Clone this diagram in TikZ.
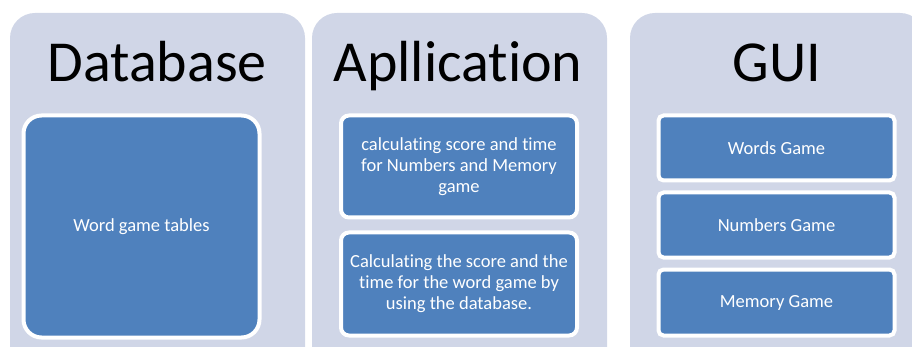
\documentclass[tikz,border=0pt]{standalone}
\usepackage{fontspec}
\setmainfont[Ligatures={NoCommon}]{Carlito}
\usetikzlibrary{positioning}
\definecolor{panelgray}{HTML}{D0D6E7}
\definecolor{boxblue}{HTML}{4F81BD}

\begin{document}
\begin{tikzpicture}
				[x=1pt, y=-1pt,
					panel/.style={rectangle, rounded corners=25pt, fill=panelgray, minimum width=295pt, minimum height=360pt, inner sep=0pt},
					paneltitle/.style={anchor=base, font=\fontsize{58}{60}\selectfont},
					bluebox/.style={rectangle, draw=white, line width=4pt, fill=boxblue, text=white, minimum width=236pt, align=center, font=\fontsize{18.5}{21}\selectfont, outer sep=0pt, inner sep=2pt},
				]
				\useasboundingbox (0,0) rectangle (912,347);
				\clip (0,0) rectangle (912,347);

				\node [panel] (dbpanel) at (157.5,193) {};
				\node [panel] (apppanel) at (459.5,193) {};
				\node [panel] (guipanel) at (777.5,193) {};

				\node [paneltitle] (dbtitle) at (157,82) {Database};
				\node [paneltitle] (apptitle) at (458,82) {Apllication};
				\node [paneltitle] (guititle) at (777,82) {GUI};

				\node [bluebox, rounded corners=18pt, minimum height=222pt] (tables) at (141.5,226.5) {Word game tables};

				\node [bluebox, rounded corners=8pt, minimum height=102pt] (scoremem) at (459,166.5) {calculating score and time\\for Numbers and Memory\\game};
				\node [bluebox, rounded corners=8pt, minimum height=103pt] (scoreword) [below=15pt of scoremem] {Calculating the score and the\\time for the word game by\\using the database.};

				\node [bluebox, rounded corners=5pt, minimum height=65pt] (words) at (776.5,148) {Words Game};
				\node [bluebox, rounded corners=5pt, minimum height=65pt] (numbers) [below=12pt of words] {Numbers Game};
				\node [bluebox, rounded corners=5pt, minimum height=66pt] (memory) [below=12pt of numbers] {Memory Game};

			\end{tikzpicture}
\end{document}
